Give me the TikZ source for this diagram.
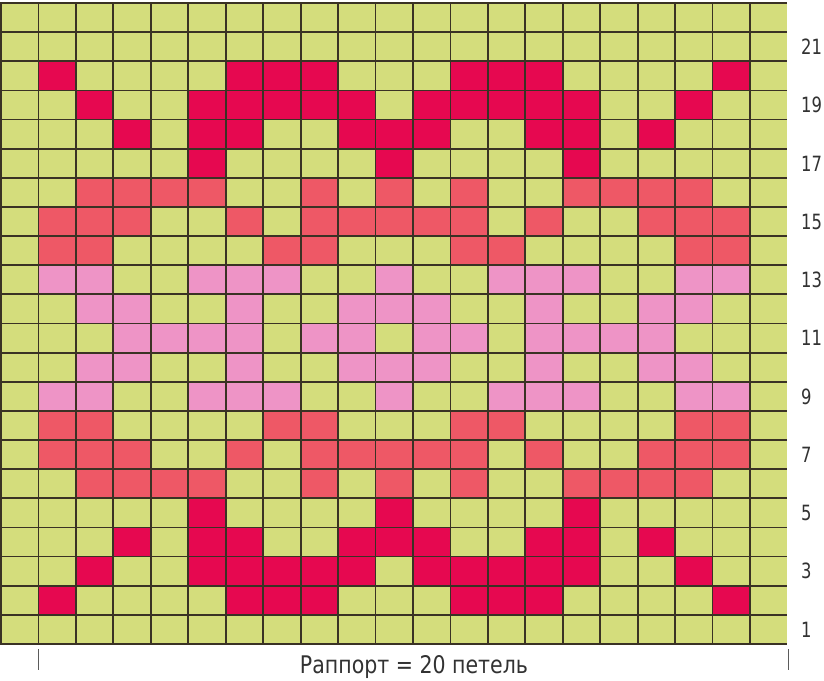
\documentclass[tikz,border=0pt]{standalone}
\usepackage{fontspec}
\newfontfamily\labfont[FakeStretch=0.78]{DejaVu Sans}
\newfontfamily\capfont{DejaVu Sans}
\definecolor{cgreen}{RGB}{212,221,124}
\definecolor{cdark}{RGB}{230,8,80}
\definecolor{csalmon}{RGB}{238,88,102}
\definecolor{cpink}{RGB}{238,148,198}
\definecolor{cline}{RGB}{58,50,36}
\definecolor{ctext}{RGB}{50,50,50}
\tikzset{
  gridline/.style={draw=cline, line width=1.8pt},
  rowlabel/.style={font=\labfont\fontsize{21}{21}\selectfont, text=ctext, inner sep=0pt, anchor=base west},
  captext/.style={text=ctext, inner sep=0pt, anchor=base},
  tickline/.style={draw=ctext!80, line width=1.5pt}
}
\begin{document}
\begin{tikzpicture}[x=1pt,y=-1pt]
\useasboundingbox (0,0) rectangle (824,680);
\fill[white] (0,0) rectangle (824,680);
\def\gx{1}
\def\gy{3}
\def\cw{37.45}
\def\rh{29.136}
% background cells
\fill[cgreen] (\gx,\gy) rectangle ({\gx+21*\cw},{\gy+22*\rh});
% coloured cells
\foreach \fc/\r/\cols in {
  cdark/2/{2,7,8,9,13,14,15,20},
  cdark/20/{2,7,8,9,13,14,15,20},
  cdark/3/{3,6,7,8,9,10,12,13,14,15,16,19},
  cdark/19/{3,6,7,8,9,10,12,13,14,15,16,19},
  cdark/4/{4,6,7,10,11,12,15,16,18},
  cdark/18/{4,6,7,10,11,12,15,16,18},
  cdark/5/{6,11,16},
  cdark/17/{6,11,16},
  csalmon/6/{3,4,5,6,9,11,13,16,17,18,19},
  csalmon/16/{3,4,5,6,9,11,13,16,17,18,19},
  csalmon/7/{2,3,4,7,9,10,11,12,13,15,18,19,20},
  csalmon/15/{2,3,4,7,9,10,11,12,13,15,18,19,20},
  csalmon/8/{2,3,8,9,13,14,19,20},
  csalmon/14/{2,3,8,9,13,14,19,20},
  cpink/9/{2,3,6,7,8,11,14,15,16,19,20},
  cpink/13/{2,3,6,7,8,11,14,15,16,19,20},
  cpink/10/{3,4,7,10,11,12,15,18,19},
  cpink/12/{3,4,7,10,11,12,15,18,19},
  cpink/11/{4,5,6,7,9,10,12,13,15,16,17,18}}{
  \foreach \c in \cols {
    \fill[\fc] ({\gx+(\c-1)*\cw},{\gy+(22-\r)*\rh}) rectangle ++(\cw,\rh);
  }
}
% grid lines
\foreach \i in {0,...,20} {
  \draw[gridline] ({\gx+\i*\cw},{\gy-0.9}) -- ({\gx+\i*\cw},{\gy+22*\rh+0.9});
}
\foreach \j in {0,...,22} {
  \draw[gridline] (\gx,{\gy+\j*\rh}) -- ({\gx+21*\cw},{\gy+\j*\rh});
}
% row numbers
\foreach \n in {1,3,...,21} {
  \node[rowlabel] (lab\n) at (801,{\gy+(22-\n+0.5)*\rh+7.8}) {\n};
}
% rapport marks
\coordinate (tl1) at (38.5,649);
\coordinate (tl2) at (38.5,670);
\coordinate (tr1) at (788.5,649);
\coordinate (tr2) at (788.5,670);
\draw[tickline] (tl1) -- (tl2);
\draw[tickline] (tr1) -- (tr2);
\node[captext] (rapport) at (414,673) {\resizebox{228pt}{18pt}{\capfont Раппорт = 20 петель}};
\end{tikzpicture}
\end{document}
